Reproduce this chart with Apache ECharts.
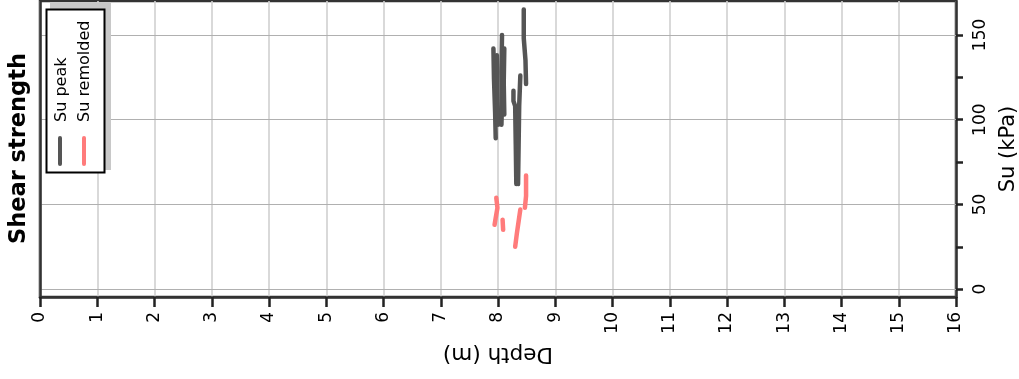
<!DOCTYPE html>
<html>
<head>
<meta charset="utf-8">
<script src="https://cdn.jsdelivr.net/npm/echarts@6/dist/echarts.min.js"></script>
<style>html,body{margin:0;padding:0;background:#fff}#chart{width:1019px;height:379px}</style>
</head>
<body>
<div id="chart"></div>
<script>
// Depth ticks (m) and Su ticks (kPa)
const depthTicks = [0,1,2,3,4,5,6,7,8,9,10,11,12,13,14,15,16];
const suLabelTicks = [0,50,100,150];
const suMinorTicks = [0,25,50,75,100,125,150];

// Su peak profiles: [depth (m), Su (kPa)]
const peak1 = [[7.92,142],[7.93,124],[7.95,104],[7.96,89]];
const peak2 = [[7.98,138],[7.99,118],[8.00,97]];
const peak3 = [[8.07,150],[8.06,128],[8.07,110],[8.06,97]];
const peak4 = [[8.11,142],[8.10,122],[8.11,103]];
const peak5 = [[8.45,165],[8.45,148],[8.48,135],[8.49,121]];
const peak6 = [[8.27,117],[8.27,111],[8.30,108],[8.31,86],[8.32,62]];
const peak7 = [[8.39,126],[8.37,108],[8.36,85],[8.35,62]];

// Su remolded profiles: [depth (m), Su (kPa)]
const rem1 = [[7.97,54],[7.99,48],[7.96,42],[7.94,38]];
const rem2 = [[8.08,41],[8.09,35]];
const rem3 = [[8.39,47],[8.36,40],[8.33,33],[8.30,25]];
const rem4 = [[8.49,67],[8.49,55],[8.47,48]];

const peakSeries = [peak1,peak2,peak3,peak4,peak5,peak6,peak7];
const remSeries = [rem1,rem2,rem3,rem4];

const PEAK_COLOR = '#555555';
const REM_COLOR = '#ff7b7b';
const FONT = 'DejaVu Sans';

function mk(data, color, name){
  return {type:'line', name:name, data:data, showSymbol:false, symbol:'none',
    lineStyle:{color:color, width:4.5, cap:'round', join:'round'}, z:5, animation:false};
}
const series = [];
// gridlines for Su at labelled ticks, and left frame edge
series.push({type:'line', data:[], silent:true, z:1,
  markLine:{silent:true, symbol:['none','none'], label:{show:false}, animation:false,
    lineStyle:{color:'#b0b0b0', width:1, type:'solid'},
    data:suLabelTicks.map(v=>({yAxis:v}))}});
series.push({type:'line', data:[], silent:true, z:3,
  markLine:{silent:true, symbol:['none','none'], label:{show:false}, animation:false,
    lineStyle:{color:'#333', width:2.5, type:'solid'},
    data:[{xAxis:depthTicks[0]}]}});
peakSeries.forEach(d=>series.push(mk(d, PEAK_COLOR, 'Su peak')));
remSeries.forEach(d=>series.push(mk(d, REM_COLOR, 'Su remolded')));

const chart = echarts.init(document.getElementById('chart'), null, {renderer:'canvas'});
chart.setOption({
  animation:false,
  backgroundColor:'#fff',
  grid:{left:40, right:63, top:1, bottom:82, containLabel:false, outerBoundsMode:'none',
    show:true, borderColor:'#333', borderWidth:2.5, backgroundColor:'transparent'},
  xAxis:{type:'value', min:0, max:16, interval:1, position:'bottom',
    name:'Depth (m)', nameLocation:'middle', nameRotate:180, nameGap:46,
    nameTextStyle:{fontFamily:FONT, fontSize:21.5, color:'#000'},
    axisLine:{onZero:false, lineStyle:{color:'#333', width:2.5}},
    axisTick:{length:10, lineStyle:{color:'#222', width:2.5}},
    axisLabel:{rotate:90, fontFamily:FONT, fontSize:17, color:'#000', margin:15,
      formatter:v=>String(v)},
    splitLine:{show:true, lineStyle:{color:'#d0d0d0', width:1.6}}
  },
  yAxis:{type:'value', min:-4.6, max:170, position:'right',
    name:'Su (kPa)', nameLocation:'middle', nameRotate:90, nameGap:42,
    nameTextStyle:{fontFamily:FONT, fontSize:21, color:'#000'},
    axisLine:{show:true, onZero:false, lineStyle:{color:'#333', width:2.5}},
    axisTick:{show:true, inside:false, length:7, customValues:suMinorTicks, lineStyle:{color:'#222', width:2.5}},
    axisLabel:{show:true, inside:false, rotate:90, customValues:suLabelTicks, fontFamily:FONT, fontSize:17, color:'#000', margin:16},
    splitLine:{show:false}
  },
  series:series,
  graphic:[
    {type:'text', z:100, x:19, y:244, rotation:Math.PI/2,
      style:{text:'Shear strength', fontFamily:FONT, fontSize:22.5, fontWeight:'bold', fill:'#000', align:'left', verticalAlign:'middle'}},
    {type:'rect', z:100, shape:{x:50, y:3, width:61, height:167}, style:{fill:'#c8c8c8'}},
    {type:'rect', z:101, shape:{x:46.5, y:9.5, width:58, height:163}, style:{fill:'#fff', stroke:'#000', lineWidth:2}},
    {type:'line', z:102, shape:{x1:60, y1:138, x2:60, y2:164}, style:{stroke:PEAK_COLOR, lineWidth:4, lineCap:'round'}},
    {type:'line', z:102, shape:{x1:84, y1:138, x2:84, y2:164}, style:{stroke:REM_COLOR, lineWidth:4, lineCap:'round'}},
    {type:'text', z:102, x:62, y:122, rotation:Math.PI/2,
      style:{text:'Su peak', fontFamily:FONT, fontSize:16, fill:'#000', align:'left', verticalAlign:'middle'}},
    {type:'text', z:102, x:85, y:122, rotation:Math.PI/2,
      style:{text:'Su remolded', fontFamily:FONT, fontSize:16, fill:'#000', align:'left', verticalAlign:'middle'}}
  ]
});
</script>
</body>
</html>
